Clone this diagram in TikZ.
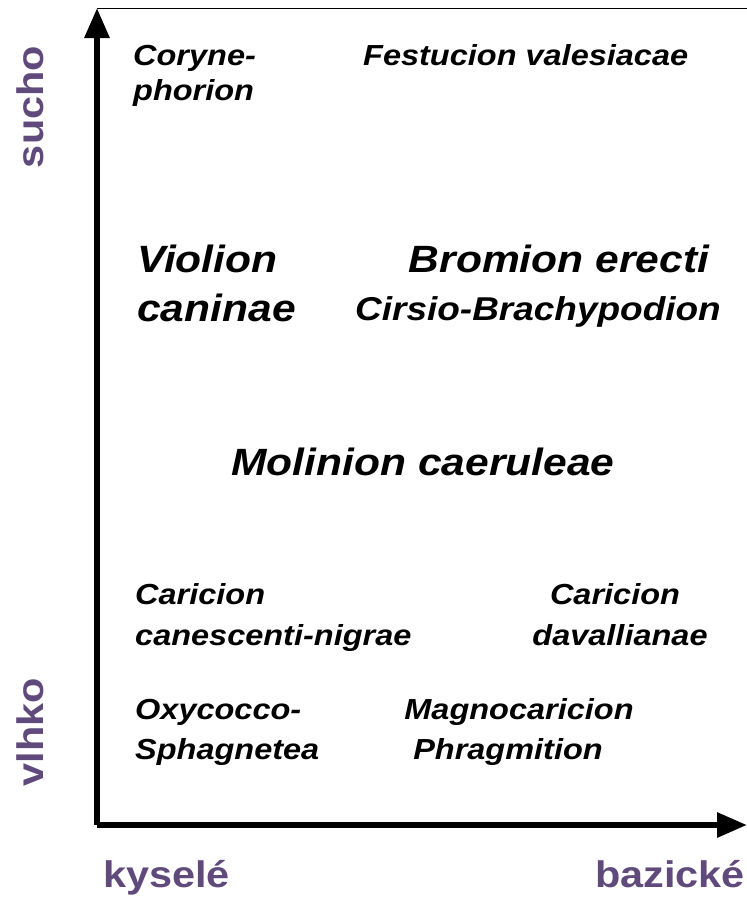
\documentclass[tikz,border=0pt]{standalone}
\usepackage{fontspec}
\setmainfont[FakeStretch=1.12]{Liberation Sans}
\usepackage{tikz}
\usetikzlibrary{arrows.meta, positioning}
\definecolor{fialova}{RGB}{96,74,123}

\begin{document}
\begin{tikzpicture}[x=1pt, y=-1pt,
      sv/.style={font=\fontsize{29}{36}\selectfont\bfseries\itshape,
                 inner sep=0pt},
      svvelky/.style={font=\fontsize{38}{50}\selectfont\bfseries\itshape,
                 inner sep=0pt},
      osa/.style={font=\fontsize{37}{40}\selectfont\bfseries,
                 text=fialova, inner sep=0pt},
      >={Triangle[length=30pt, width=24pt]}]
    \useasboundingbox (0,0) rectangle (747,903);
    \coordinate (O) at (97,825);
    \coordinate (Ytip) at (97,8);
    \coordinate (Xtip) at (747,825);
    \coordinate (Ramec) at (747,8);
    % Osy
    \draw[line width=0.9pt] (Ytip) -- (Ramec);
    \draw[->, line width=6pt] (O) -- (Ytip);
    \draw[->, line width=6pt] (O) -- (Xtip);
    % Svazy
    \node[sv, anchor=base west] (cor1) at (133,65) {Coryne-};
    \node[sv, anchor=base west] (cor2) at (133,100) {phorion};
    \node[sv, anchor=base west] (fes) at (363,65) {Festucion valesiacae};
    \node[svvelky, anchor=base west] (vio1) at (137,272) {Violion};
    \node[svvelky, anchor=base west] (vio2) at (137,321) {caninae};
    \node[svvelky, anchor=base] (bro) at (559,272) {Bromion erecti};
    \node[sv, font=\fontsize{33}{37}\selectfont\bfseries\itshape, anchor=base]
          (cir) at (538,320) {Cirsio-Brachypodion};
    \node[svvelky, anchor=base] (mol) at (423,475) {Molinion caeruleae};
    \node[sv, anchor=base west] (can1) at (135,604) {Caricion};
    \node[sv, anchor=base west] (can2) at (135,645) {canescenti-nigrae};
    \node[sv, anchor=base] (dav1) at (615,604) {Caricion};
    \node[sv, anchor=base] (dav2) at (620,645) {davallianae};
    \node[sv, anchor=base west] (oxy1) at (135,719) {Oxycocco-};
    \node[sv, anchor=base west] (oxy2) at (135,759) {Sphagnetea};
    \node[sv, anchor=base] (mag1) at (519,719) {Magnocaricion};
    \node[sv, anchor=base] (mag2) at (508,759) {Phragmition};
    % Popisky os
    \node[osa, rotate=90, anchor=base] (suc) at (43,107) {sucho};
    \node[osa, rotate=90, anchor=base] (vlh) at (43,732) {vlhko};
    \node[osa, anchor=base west] (kys) at (103,887) {kyselé};
    \node[osa, anchor=base east] (baz) at (745,887) {bazické};
  \end{tikzpicture}
\end{document}
